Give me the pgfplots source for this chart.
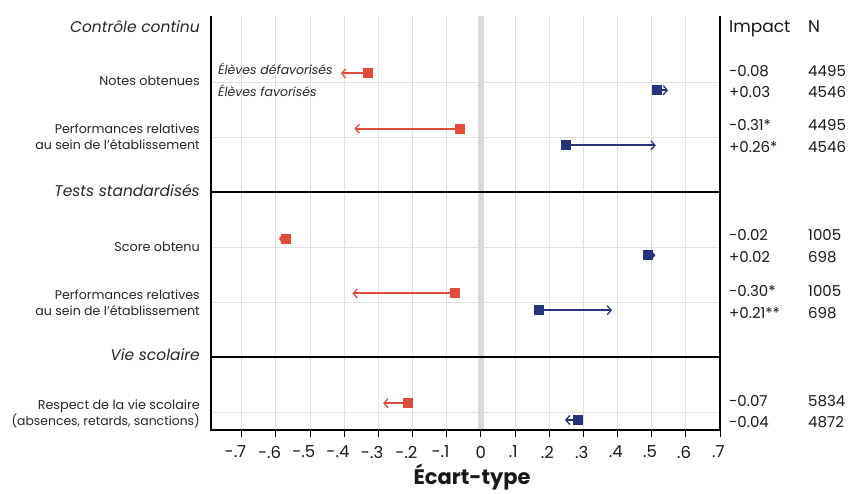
\documentclass[border=0pt]{standalone}
\usepackage{fontspec}
\setmainfont{Poppins}
\usepackage{pgfplots}
\pgfplotsset{compat=1.18}
\usetikzlibrary{arrows.meta}
\definecolor{redc}{RGB}{224,75,58}
\definecolor{bluec}{RGB}{39,52,122}
\definecolor{gridc}{RGB}{224,224,224}
\definecolor{zeroc}{RGB}{218,218,218}
\begin{document}
\begin{tikzpicture}[x=1pt,y=1pt]
\useasboundingbox (0,0) rectangle (850,493);
\begin{axis}[
  at={(211pt,63pt)}, anchor=south west,
  width=509pt, height=414pt, scale only axis,
  xmin=-0.79, xmax=0.7, ymin=0.673, ymax=8.2,
  xtick={-0.7,-0.6,-0.5,-0.4,-0.3,-0.2,-0.1,0,0.1,0.2,0.3,0.4,0.5,0.6,0.7},
  xticklabels={\llap{-.}7,\llap{-.}6,\llap{-.}5,\llap{-.}4,\llap{-.}3,\llap{-.}2,\llap{-.}1,0,\llap{.}1,\llap{.}2,\llap{.}3,\llap{.}4,\llap{.}5,\llap{.}6,\llap{.}7},
  ytick={1,3,4,6,7}, yticklabels={},
  xmajorgrids, ymajorgrids,
  grid style={gridc, line width=1pt},
  axis line style={draw=none},
  tick align=outside, xtick pos=bottom,
  major tick length=7pt,
  x tick style={black, line width=1pt},
  y tick style={draw=none},
  x tick label style={font=\fontsize{16.5}{16}\selectfont, yshift=-5.5pt, text=black!90},
  clip=false,
]
\addplot[zeroc, line width=6.5pt, forget plot] coordinates {(0,0.673) (0,8.2)};
\addplot[black, line width=2.6pt, forget plot] coordinates {(-0.79,5) (0.7,5)};
\addplot[black, line width=2.6pt, forget plot] coordinates {(-0.79,2) (0.7,2)};
% Notes obtenues
\addplot[redc, line width=2pt, -{Straight Barb[length=4pt,width=9pt,line width=1.3pt]}, mark=square*, mark size=4pt, mark indices={1}] coordinates {(-0.33,7.155) (-0.41,7.155)};
\addplot[bluec, line width=2pt, -{Straight Barb[length=4pt,width=9pt,line width=1.3pt]}, mark=square*, mark size=3.8pt, mark indices={1}] coordinates {(0.515,6.85) (0.548,6.85)};
% Performances relatives (CC)
\addplot[redc, line width=2pt, -{Straight Barb[length=4pt,width=9pt,line width=1.3pt]}, mark=square*, mark size=4pt, mark indices={1}] coordinates {(-0.06,6.15) (-0.37,6.15)};
\addplot[bluec, line width=2pt, -{Straight Barb[length=4pt,width=9pt,line width=1.3pt]}, mark=square*, mark size=3.8pt, mark indices={1}] coordinates {(0.25,5.85) (0.512,5.85)};
% Score obtenu
\addplot[redc, line width=2pt, -{Straight Barb[length=4pt,width=9pt,line width=1.3pt]}, mark=square*, mark size=4pt, mark indices={1}] coordinates {(-0.57,4.15) (-0.592,4.15)};
\addplot[bluec, line width=2pt, -{Straight Barb[length=4pt,width=9pt,line width=1.3pt]}, mark=square*, mark size=3.8pt, mark indices={1}] coordinates {(0.49,3.85) (0.511,3.85)};
% Performances relatives (tests)
\addplot[redc, line width=2pt, -{Straight Barb[length=4pt,width=9pt,line width=1.3pt]}, mark=square*, mark size=4pt, mark indices={1}] coordinates {(-0.075,3.155) (-0.376,3.155)};
\addplot[bluec, line width=2pt, -{Straight Barb[length=4pt,width=9pt,line width=1.3pt]}, mark=square*, mark size=3.8pt, mark indices={1}] coordinates {(0.17,2.85) (0.384,2.85)};
% Respect de la vie scolaire
\addplot[redc, line width=2pt, -{Straight Barb[length=4pt,width=9pt,line width=1.3pt]}, mark=square*, mark size=4pt, mark indices={1}] coordinates {(-0.212,1.16) (-0.286,1.16)};
\addplot[bluec, line width=2pt, -{Straight Barb[length=4pt,width=9pt,line width=1.3pt]}, mark=square*, mark size=3.8pt, mark indices={1}] coordinates {(0.285,0.855) (0.246,0.855)};
% frame: left, bottom, right
\draw[black, line width=1.4pt] (rel axis cs:0,1) -- (rel axis cs:0,0) -- (rel axis cs:1,0) -- (rel axis cs:1,1);
\end{axis}
% left labels
\begin{scope}[every node/.style={inner sep=0pt, anchor=base east, text=black!85}]
\node[font=\fontsize{15.5}{20}\selectfont\itshape] at (200,460.7) {Contrôle continu};
\node[font=\fontsize{12.8}{16}\selectfont] at (200,407) {Notes obtenues};
\node[font=\fontsize{12.6}{16}\selectfont] at (200,359) {Performances relatives};
\node[font=\fontsize{12.6}{16}\selectfont] at (200,343) {au sein de l'établissement};
\node[font=\fontsize{15.5}{20}\selectfont\itshape] at (200,296.5) {Tests standardisés};
\node[font=\fontsize{12.8}{16}\selectfont] at (200,241.3) {Score obtenu};
\node[font=\fontsize{12.6}{16}\selectfont] at (200,193.7) {Performances relatives};
\node[font=\fontsize{12.6}{16}\selectfont] at (200,178) {au sein de l'établissement};
\node[font=\fontsize{15.5}{20}\selectfont\itshape] at (200,132.3) {Vie scolaire};
\node[font=\fontsize{12.8}{16}\selectfont] at (200,84) {Respect de la vie scolaire};
\node[font=\fontsize{12.4}{16}\selectfont] at (200,68) {(absences, retards, sanctions)};
\end{scope}
% in-plot labels
\begin{scope}[every node/.style={inner sep=0pt, anchor=base west, text=black!85, font=\fontsize{12.5}{15}\selectfont\itshape}]
\node at (218,418) {Élèves défavorisés};
\node at (218,396.3) {Élèves favorisés};
\end{scope}
% right columns
\begin{scope}[every node/.style={inner sep=0pt, anchor=base west, text=black!90, font=\fontsize{15}{18}\selectfont}]
\node[font=\fontsize{17}{18}\selectfont] at (729,460.7) {Impact};
\node[font=\fontsize{17}{18}\selectfont] at (808,460.7) {N};
\node at (729,416.3) {-0.08};   \node at (808,416.3) {4495};
\node at (729,395.3) {+0.03};   \node at (808,395.3) {4546};
\node at (729,362) {-0.31*};    \node at (808,362) {4495};
\node at (729,340.3) {+0.26*};  \node at (808,340.3) {4546};
\node at (729,252) {-0.02};     \node at (808,252) {1005};
\node at (729,230) {+0.02};     \node at (808,230) {698};
\node at (729,197) {-0.30*};    \node at (808,197) {1005};
\node at (729,174.7) {+0.21**}; \node at (808,174.7) {698};
\node at (729,86.3) {-0.07};    \node at (808,86.3) {5834};
\node at (729,65.3) {-0.04};    \node at (808,65.3) {4872};
\end{scope}
\node[inner sep=0pt, anchor=base, font=\fontsize{21}{24}\selectfont\bfseries, text=black!90] at (472,8.5) {Écart-type};
\end{tikzpicture}
\end{document}
